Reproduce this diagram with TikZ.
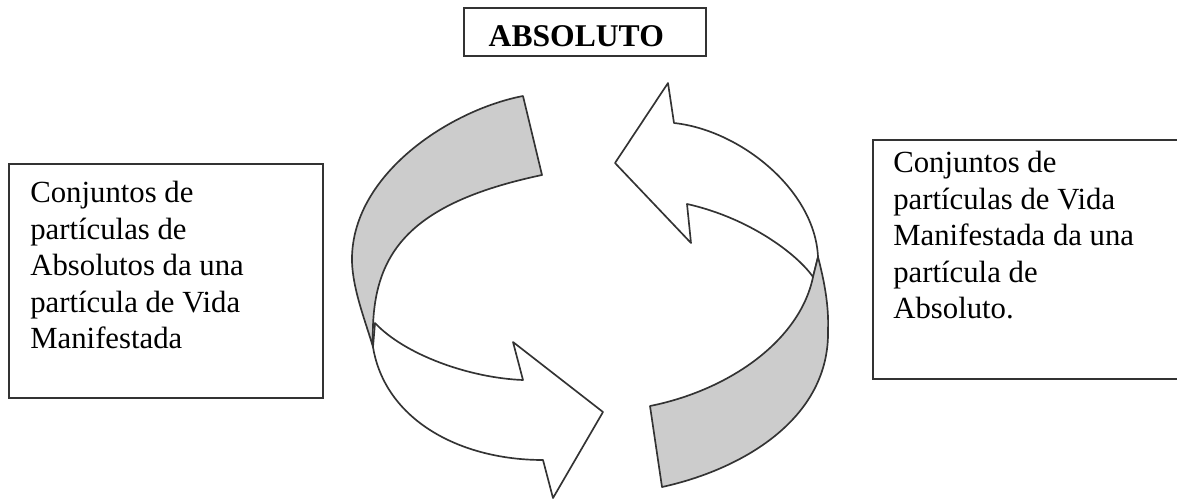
\documentclass[tikz,border=0pt]{standalone}
\usepackage{fontspec}
\setmainfont{Liberation Serif}
\usetikzlibrary{positioning}

\begin{document}
\begin{tikzpicture}[
  x=0.02cm, y=-0.02cm,
  font=\fontsize{17.5pt}{20.8pt}\selectfont,
  panel/.style={draw=black!80, line width=1.2pt, inner sep=0pt, anchor=north west},
  txt/.style={align=left, inner sep=0pt, anchor=north west},
  ribbon/.style={draw=black!80, line width=0.95pt, line join=round},
  band/.style={ribbon, fill=black!20},
  sheet/.style={ribbon, fill=white}
]
\useasboundingbox (0,0) rectangle (1177,501);

% title and side panels
\node[panel, minimum width=4.84cm, text height=0.76cm, text depth=0.2cm] (absoluto) at (463,7) {\hspace*{-0.35cm}\fontsize{18pt}{20pt}\selectfont\bfseries ABSOLUTO};
\node[panel, minimum width=6.28cm, minimum height=4.68cm] (leftbox) at (8,163) {};
\node[txt] (lefttext) at (30,181) {Conjuntos de\\partículas de\\Absolutos da una\\partícula de Vida\\Manifestada};
\node[panel, minimum width=6.24cm, minimum height=4.78cm] (rightbox) at (872,139) {};
\node[txt] (righttext) at (893,151) {Conjuntos de\\partículas de Vida\\Manifestada da una\\partícula de\\Absoluto.};

% left ribbon
\draw[sheet] (373,347) .. controls (385,420) and (460,460) .. (543,460) -- (553,498) -- (603,412)
  -- (513,342) -- (523,380) .. controls (470,378) and (405,355) .. (375,323) -- cycle;
\draw[band] (523,96) .. controls (450,110) and (350,175) .. (352,262)
  .. controls (353,290) and (365,320) .. (373,347)
  .. controls (370,260) and (400,205) .. (542,175) -- cycle;

% right ribbon
\draw[sheet] (674,123) .. controls (740,130) and (815,190) .. (818,257) -- (813,277)
  .. controls (798,255) and (750,218) .. (687,204) -- (691,243) -- (615,163) -- (668,83) -- cycle;
\draw[band] (818,257) .. controls (824,280) and (829,305) .. (828,330)
  .. controls (830,420) and (740,470) .. (662,487) -- (650,406)
  .. controls (730,390) and (800,340) .. (813,277) -- cycle;
\end{tikzpicture}
\end{document}
